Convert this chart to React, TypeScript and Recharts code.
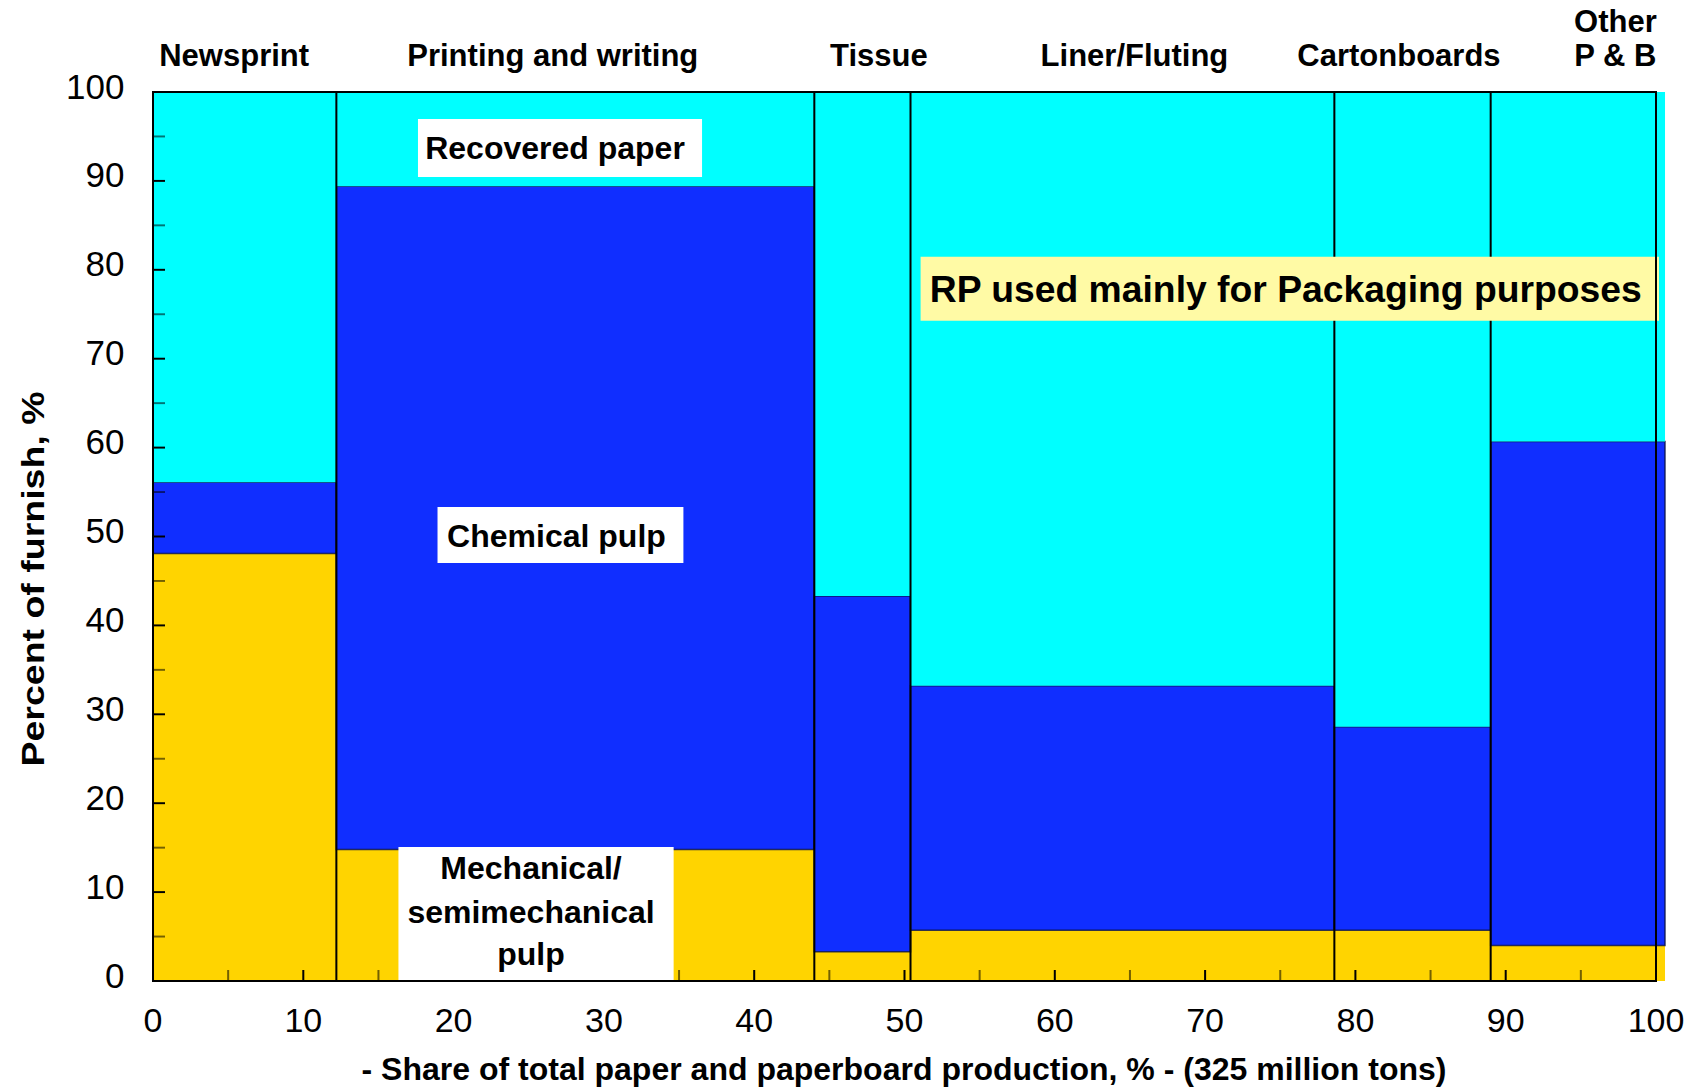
import React from 'react';
import { ComposedChart, XAxis, YAxis, ReferenceArea, Scatter, Label } from 'recharts';

const categories = ['Newsprint', 'Printing and writing', 'Tissue', 'Liner/Fluting', 'Cartonboards', 'Other\nP & B'];
const shares = [12.2, 31.8, 6.4, 28.2, 10.4, 11.6];
const mechanical = [48.1, 14.8, 3.3, 5.7, 5.7, 4.0];
const chemical = [8.0, 74.6, 40.0, 27.5, 22.9, 56.7];
const recovered = [43.9, 10.6, 56.7, 66.8, 71.4, 39.3];
const categoryLabelAt = [5.4, 26.6, 48.3, 65.3, 82.9, 97.3];
const xTicks = [0, 10, 20, 30, 40, 50, 60, 70, 80, 90, 100];
const yTicks = [0, 10, 20, 30, 40, 50, 60, 70, 80, 90, 100];
const innerTicks = [5, 10, 15, 20, 25, 30, 35, 40, 45, 50, 55, 60, 65, 70, 75, 80, 85, 90, 95];

const FONT = '"Liberation Sans", Arial, Helvetica, sans-serif';
const C_MECH = '#FFD400';
const C_CHEM = '#102EFF';
const C_REC = '#00FFFF';

let acc = 0;
const segments = categories.map((name, i) => {
  const x1 = acc;
  const x2 = acc + shares[i];
  acc = x2;
  return { name, x1, x2, mech: mechanical[i], chem: chemical[i], rec: recovered[i] };
});
const anchorPoints = segments.map((s) => ({ x: (s.x1 + s.x2) / 2, y: 0 }));

const BottomTick = (props: any) => {
  const { x, y, payload } = props;
  return (
    <text x={x} y={y + 51} textAnchor="middle" fontSize={34} fontFamily={FONT} fill="#000">
      {payload.value}
    </text>
  );
};

const LeftTick = (props: any) => {
  const { x, y, payload } = props;
  return (
    <text x={x - 28.5} y={y + 6.5} textAnchor="end" fontSize={35} fontFamily={FONT} fill="#000">
      {payload.value}
    </text>
  );
};

const TopTick = (props: any) => {
  const { x, y, payload } = props;
  const idx = categoryLabelAt.indexOf(payload.value);
  const lines = (categories[idx] || '').split('\n');
  return (
    <text textAnchor="middle" fontSize={31} fontWeight="bold" fontFamily={FONT} fill="#000">
      {lines.map((l, k) => (
        <tspan key={k} x={x} y={y - 26 - (lines.length - 1 - k) * 34}>
          {l}
        </tspan>
      ))}
    </text>
  );
};

const YTitle = () => (
  <text
    transform="translate(44,579) rotate(-90)"
    x={0}
    y={0}
    textAnchor="middle"
    fontSize={31}
    fontWeight="bold"
    fontFamily={FONT}
    fill="#000"
    textLength={375}
    lengthAdjust="spacingAndGlyphs"
  >
    Percent of furnish, %
  </text>
);

const XTitle = () => (
  <text
    x={904}
    y={1080}
    textAnchor="middle"
    fontSize={31}
    fontWeight="bold"
    fontFamily={FONT}
    fill="#000"
    textLength={1085}
    lengthAdjust="spacingAndGlyphs"
  >
    - Share of total paper and paperboard production, % - (325 million tons)
  </text>
);

const BoxLabel = (props: any) => {
  const { viewBox, lines, size, offsets, length, shift = 0 } = props;
  if (!viewBox) return null;
  const cx = viewBox.x + viewBox.width / 2 + shift;
  return (
    <g>
      {lines.map((l: string, k: number) => (
        <text
          key={k}
          x={cx}
          y={viewBox.y + offsets[k]}
          textAnchor="middle"
          fontSize={size}
          fontWeight="bold"
          fontFamily={FONT}
          fill="#000"
          {...(length ? { textLength: length, lengthAdjust: 'spacingAndGlyphs' } : {})}
        >
          {l}
        </text>
      ))}
    </g>
  );
};

const HW = 0.067; // half width of a 2px vertical line in x units
const HH = 0.11; // half height of a 2px horizontal line in y units

export default function App() {
  return (
    <div>
      <style>{`body{margin:0;background:#fff}`}</style>
      <ComposedChart width={1698} height={1090} margin={{ top: 0, right: 42, bottom: 0, left: 0 }}>
        <XAxis
          type="number"
          dataKey="x"
          domain={[0, 100]}
          ticks={xTicks}
          interval={0}
          tickSize={0}
          tickMargin={0}
          axisLine={false}
          tickLine={false}
          height={109}
          allowDataOverflow
          tick={<BottomTick />}
        >
          <Label content={<XTitle />} />
        </XAxis>
        <XAxis
          xAxisId="top"
          orientation="top"
          type="number"
          dataKey="x"
          domain={[0, 100]}
          ticks={categoryLabelAt}
          interval={0}
          tickSize={0}
          tickMargin={0}
          axisLine={false}
          tickLine={false}
          height={92}
          allowDataOverflow
          tick={<TopTick />}
        />
        <YAxis
          type="number"
          dataKey="y"
          domain={[0, 100]}
          ticks={yTicks}
          interval={0}
          tickSize={0}
          tickMargin={0}
          axisLine={false}
          tickLine={false}
          width={153}
          allowDataOverflow
          tick={<LeftTick />}
        >
          <Label content={<YTitle />} />
        </YAxis>
        <Scatter data={anchorPoints} dataKey="y" fill="none" shape={() => <g />} isAnimationActive={false} />
        <Scatter xAxisId="top" data={anchorPoints} dataKey="y" fill="none" shape={() => <g />} isAnimationActive={false} />

        {segments.map((s, i) => (
          <ReferenceArea
            key={`m${i}`}
            x1={s.x1}
            x2={s.x2}
            y1={0}
            y2={s.mech}
            fill={C_MECH}
            fillOpacity={1}
            stroke="none"
            ifOverflow="visible"
          />
        ))}
        {segments.map((s, i) => (
          <ReferenceArea
            key={`c${i}`}
            x1={s.x1}
            x2={s.x2}
            y1={s.mech}
            y2={s.mech + s.chem}
            fill={C_CHEM}
            fillOpacity={1}
            stroke="#0a1040"
            strokeOpacity={0.8}
            strokeWidth={1.5}
            ifOverflow="visible"
          />
        ))}
        {segments.map((s, i) => (
          <ReferenceArea
            key={`r${i}`}
            x1={s.x1}
            x2={s.x2}
            y1={s.mech + s.chem}
            y2={s.mech + s.chem + s.rec}
            fill={C_REC}
            fillOpacity={1}
            stroke="none"
            ifOverflow="visible"
          />
        ))}

        {innerTicks.map((v) => (
          <ReferenceArea
            key={`yt${v}`}
            x1={0}
            x2={0.8}
            y1={v - HH}
            y2={v + HH}
            fill="#000"
            fillOpacity={v % 10 === 0 ? 1 : 0.55}
            stroke="none"
            ifOverflow="visible"
          />
        ))}
        {innerTicks.map((v) => (
          <ReferenceArea
            key={`xt${v}`}
            x1={v - HW}
            x2={v + HW}
            y1={0}
            y2={1.24}
            fill="#000"
            fillOpacity={v % 10 === 0 ? 1 : 0.55}
            stroke="none"
            ifOverflow="visible"
          />
        ))}

        {segments.slice(0, -1).map((s, i) => (
          <ReferenceArea
            key={`sep${i}`}
            x1={s.x2 - HW}
            x2={s.x2 + HW}
            y1={0}
            y2={100}
            fill="#000"
            fillOpacity={1}
            stroke="none"
            ifOverflow="visible"
          />
        ))}

        <ReferenceArea
          x1={17.63}
          x2={36.53}
          y1={90.44}
          y2={96.96}
          fill="#fff"
          fillOpacity={1}
          stroke="none"
          ifOverflow="visible"
          label={<BoxLabel lines={['Recovered paper']} size={32} offsets={[40]} shift={-5} />}
        />
        <ReferenceArea
          x1={18.93}
          x2={35.29}
          y1={47.02}
          y2={53.32}
          fill="#fff"
          fillOpacity={1}
          stroke="none"
          ifOverflow="visible"
          label={<BoxLabel lines={['Chemical pulp']} size={32} offsets={[40]} shift={-4} />}
        />
        <ReferenceArea
          x1={16.33}
          x2={34.64}
          y1={0}
          y2={15.07}
          fill="#fff"
          fillOpacity={1}
          stroke="none"
          ifOverflow="visible"
          label={<BoxLabel lines={['Mechanical/', 'semimechanical', 'pulp']} size={32} offsets={[32, 76, 118]} shift={-5} />}
        />
        <ReferenceArea
          x1={51.07}
          x2={100.2}
          y1={74.28}
          y2={81.47}
          fill="#FFFAA5"
          fillOpacity={1}
          stroke="none"
          ifOverflow="visible"
          label={<BoxLabel lines={['RP used mainly for Packaging purposes']} size={37} offsets={[45]} length={712} shift={-4} />}
        />

        <ReferenceArea
          x1={0}
          x2={100}
          y1={0}
          y2={100}
          fill="none"
          fillOpacity={0}
          stroke="#000"
          strokeWidth={2}
          ifOverflow="visible"
        />
      </ComposedChart>
    </div>
  );
}
